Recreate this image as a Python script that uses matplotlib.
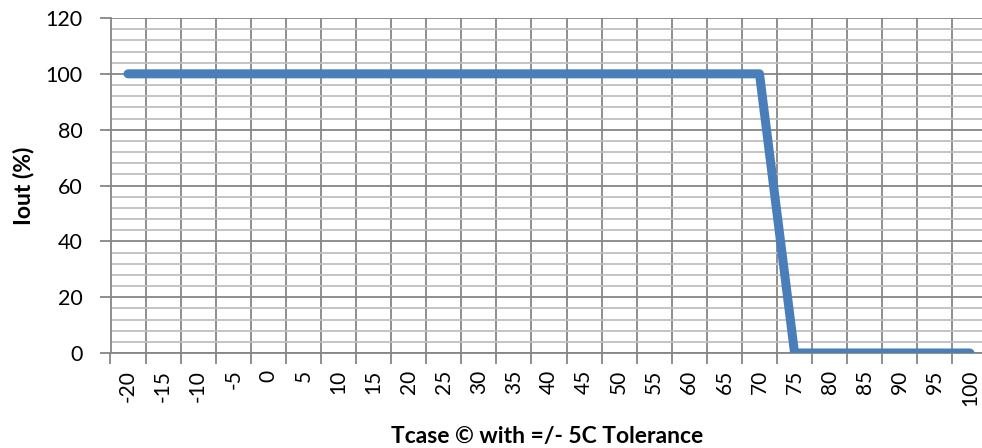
import matplotlib.pyplot as plt
import numpy as np

# данные графика
tcase = [-20, -15, -10, -5, 0, 5, 10, 15, 20, 25, 30, 35, 40, 45, 50,
         55, 60, 65, 70, 75, 80, 85, 90, 95, 100]
iout = [100, 100, 100, 100, 100, 100, 100, 100, 100, 100, 100, 100, 100,
        100, 100, 100, 100, 100, 100, 0, 0, 0, 0, 0, 0]
y_ticks = [0, 20, 40, 60, 80, 100, 120]

plt.rcParams['font.family'] = ['Lato', 'DejaVu Sans']

fig = plt.figure(figsize=(9.82, 4.48), dpi=100)
ax = fig.add_axes([110.5 / 982, 1 - 353 / 448, 877 / 982, 335 / 448])

pos = np.arange(len(tcase))
ax.plot(pos, iout, color='#4a7ebb', linewidth=6.5,
        solid_capstyle='round', solid_joinstyle='round', zorder=3)

# ось X: категории, деления между ними
ax.set_xlim(-0.5, len(tcase) - 0.5)
ax.set_xticks(np.arange(len(tcase) + 1) - 0.5)
ax.set_xticklabels([])
ax.set_xticks(pos, minor=True)
ax.set_xticklabels([str(t) for t in tcase], minor=True, rotation=90, fontsize=15)
ax.tick_params(axis='x', which='major', length=8, width=1.3, color='#868686')
ax.tick_params(axis='x', which='minor', length=0, pad=12)

# ось Y
ax.set_ylim(0, 120)
ax.set_yticks(y_ticks)
ax.set_yticklabels([str(v) for v in y_ticks], fontsize=15.5)
ax.set_yticks(np.arange(0, 121, 4), minor=True)
ax.tick_params(axis='y', which='major', length=8, width=1.3, color='#868686', pad=12)
ax.tick_params(axis='y', which='minor', length=0)

# сетка
ax.grid(True, which='major', axis='both', color='#868686', linewidth=1.3)
ax.grid(True, which='minor', axis='y', color='#bfbfbf', linewidth=1.3)
ax.set_axisbelow(True)

for side in ['top', 'right']:
    ax.spines[side].set_visible(False)
for side in ['left', 'bottom']:
    ax.spines[side].set_color('#868686')
    ax.spines[side].set_linewidth(1.3)

# подписи осей
fig.text(24 / 982, 1 - 186 / 448, 'Iout (%)', rotation=90, fontsize=16.5,
         fontweight='bold', ha='center', va='center')
fig.text(547 / 982, 1 - 436 / 448, 'Tcase \u00a9 with =/- 5C Tolerance',
         fontsize=16.5, fontweight='bold', ha='center', va='center')

fig.savefig('out.png', dpi=100)
